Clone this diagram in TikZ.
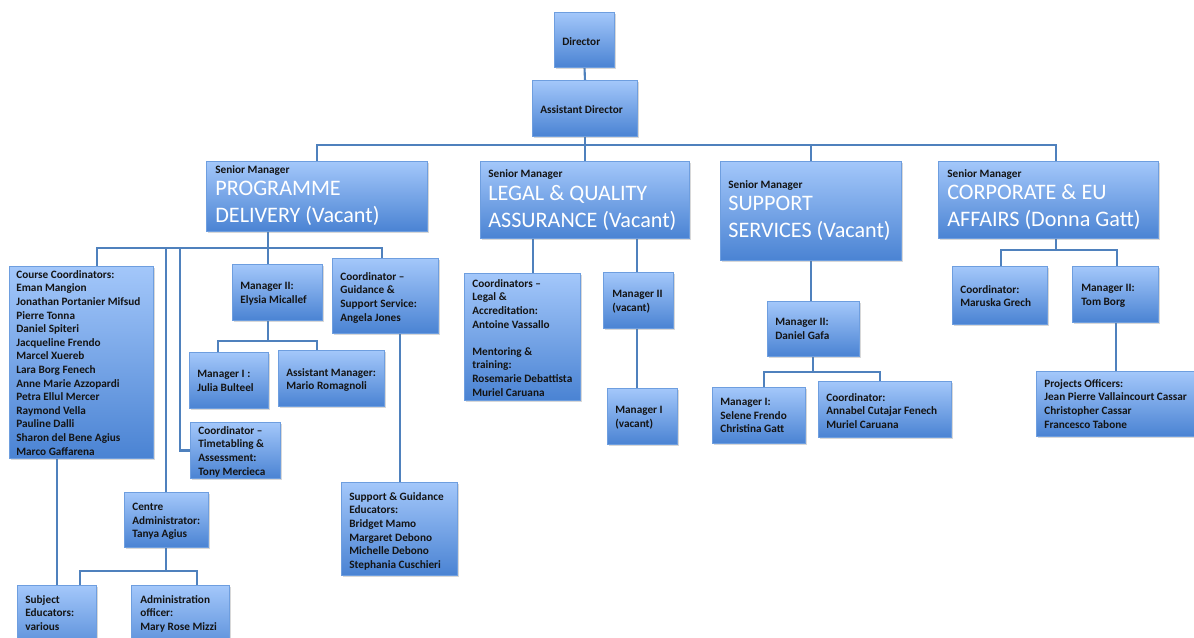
\documentclass[tikz,border=0pt]{standalone}
\usepackage{fontspec}
\setmainfont{Carlito}
\usetikzlibrary{fit,shadows}
\definecolor{linec}{HTML}{4F81BD}
\definecolor{boxtop}{HTML}{A3C7FA}
\definecolor{boxbot}{HTML}{4A83D3}
\definecolor{boxedge}{HTML}{6E9EDF}
\definecolor{txt}{HTML}{141414}
\newcommand\smallfnt{\fontsize{6.4pt}{7.74pt}\selectfont\bfseries}
\newcommand\bigfnt{\fontsize{12.6pt}{15.4pt}\selectfont}
\tikzset{
  box/.style={draw=boxedge, line width=0.4pt, top color=boxtop, bottom color=boxbot,
    inner sep=0pt, drop shadow={shadow xshift=0.7pt, shadow yshift=-0.9pt, opacity=0.3}},
  conn/.style={draw=linec, line width=1.2pt},
  sm/.style={anchor=north west, inner sep=0pt, align=left, font=\smallfnt, text=txt},
  bg/.style={anchor=north west, inner sep=0pt, align=left, font=\bigfnt, text=white},
}
\begin{document}
\begin{tikzpicture}[x=0.02cm,y=-0.02cm]
\clip (0,0) rectangle (1194,637);
\fill[white] (0,0) rectangle (1194,637);
% ---- coordinates of boxes (as named fit nodes drawn later, but lines use them)
\path
  node[fit={(555,13) (614,67)}, inner sep=0pt] (dir) {}
  node[fit={(533,81) (637,136)}, inner sep=0pt] (ad) {}
  node[fit={(207,162) (427,231)}, inner sep=0pt] (pd) {}
  node[fit={(481,162) (689,238)}, inner sep=0pt] (lqa) {}
  node[fit={(721,162) (901,260)}, inner sep=0pt] (ss) {}
  node[fit={(939,162) (1158,238)}, inner sep=0pt] (corp) {}
  node[fit={(10,267) (153,458)}, inner sep=0pt] (cc) {}
  node[fit={(233,265) (322,320)}, inner sep=0pt] (ely) {}
  node[fit={(333,259) (438,333)}, inner sep=0pt] (guid) {}
  node[fit={(190,353) (268,408)}, inner sep=0pt] (jul) {}
  node[fit={(279,351) (384,406)}, inner sep=0pt] (asst) {}
  node[fit={(191,423) (280,478)}, inner sep=0pt] (tt) {}
  node[fit={(125,493) (208,547)}, inner sep=0pt] (ca) {}
  node[fit={(18,586) (96,660)}, inner sep=0pt] (subj) {}
  node[fit={(132,586) (229,660)}, inner sep=0pt] (adm) {}
  node[fit={(342,483) (457,575)}, inner sep=0pt] (sg) {}
  node[fit={(465,274) (580,400)}, inner sep=0pt] (legal) {}
  node[fit={(604,273) (673,328)}, inner sep=0pt] (mtwo) {}
  node[fit={(608,389) (677,444)}, inner sep=0pt] (mone) {}
  node[fit={(768,302) (859,356)}, inner sep=0pt] (gafa) {}
  node[fit={(713,388) (805,443)}, inner sep=0pt] (sel) {}
  node[fit={(819,382) (951,437)}, inner sep=0pt] (ann) {}
  node[fit={(953,267) (1047,324)}, inner sep=0pt] (mar) {}
  node[fit={(1073,267) (1158,322)}, inner sep=0pt] (tom) {}
  node[fit={(1037,372) (1215,436)}, inner sep=0pt] (proj) {};
% ---- connectors
\coordinate (bus) at (585,145);
\coordinate (pdbus) at (268,248);
\coordinate (elybus) at (268,341);
\coordinate (cabus) at (166,571);
\coordinate (ssbus) at (813,372);
\coordinate (corpbus) at (1056,250);
\draw[conn] (dir.south) -- (ad.north);
\draw[conn] (ad.south) -- (lqa.north);
\draw[conn] (pd.north) |- (bus) -| (ss.north);
\draw[conn] (bus) -| (1056,0 |- corp.north);
\draw[conn] (268,0 |- pd.south) -- (pdbus);
\draw[conn] (97,0 |- cc.north) |- (pdbus) -| (382,0 |- guid.north);
\draw[conn] (pdbus) -- (268,0 |- ely.north);
\draw[conn] (166,248) -- (166,0 |- ca.north);
\draw[conn] (180,248) |- (tt.west);
\draw[conn] (268,0 |- ely.south) -- (elybus);
\draw[conn] (218,0 |- jul.north) |- (elybus) -| (317,0 |- asst.north);
\draw[conn] (400,0 |- guid.south) -- (400,0 |- sg.north);
\draw[conn] (57,0 |- cc.south) -- (57,0 |- subj.north);
\draw[conn] (166,0 |- ca.south) -- (cabus);
\draw[conn] (80,0 |- subj.north) |- (cabus) -| (197,0 |- adm.north);
\draw[conn] (533,0 |- lqa.south) -- (533,0 |- legal.north);
\draw[conn] (637,0 |- lqa.south) -- (637,0 |- mtwo.north);
\draw[conn] (637,0 |- mtwo.south) -- (637,0 |- mone.north);
\draw[conn] (811,0 |- ss.south) -- (811,0 |- gafa.north);
\draw[conn] (813,0 |- gafa.south) -- (ssbus);
\draw[conn] (764,0 |- sel.north) |- (ssbus) -| (880,0 |- ann.north);
\draw[conn] (1056,0 |- corp.south) -- (corpbus);
\draw[conn] (1001,0 |- mar.north) |- (corpbus) -| (1117,0 |- tom.north);
\draw[conn] (1116,0 |- tom.south) -- (1116,0 |- proj.north);
% ---- boxes
\foreach \n in {dir,ad,pd,lqa,ss,corp,cc,ely,guid,jul,asst,tt,ca,subj,adm,sg,legal,mtwo,mone,gafa,sel,ann,mar,tom,proj}
  \path[box] (\n.north west) rectangle (\n.south east);
% ---- texts
\node[sm] (t-dir) at (562,37) {Director};
\node[sm] (t-ad) at (540,105) {Assistant Director};
\node[sm] (t-pd1) at (215,165) {Senior Manager};
\node[bg] (t-pd2) at (215,181) {PROGRAMME\\DELIVERY (Vacant)};
\node[sm] (t-lqa1) at (488,169) {Senior Manager};
\node[bg] (t-lqa2) at (488,185) {LEGAL \& QUALITY\\ASSURANCE (Vacant)};
\node[sm] (t-ss1) at (728,180) {Senior Manager};
\node[bg] (t-ss2) at (728,196) {SUPPORT\\SERVICES (Vacant)};
\node[sm] (t-corp1) at (947,169) {Senior Manager};
\node[bg] (t-corp2) at (947,184) {CORPORATE \& EU\\AFFAIRS (Donna Gatt)};
\node[sm] (t-cc) at (16,270) {Course Coordinators:\\Eman Mangion\\Jonathan Portanier Mifsud\\Pierre Tonna\\Daniel Spiteri\\Jacqueline Frendo\\Marcel Xuereb\\Lara Borg Fenech\\Anne Marie Azzopardi\\Petra Ellul Mercer\\Raymond Vella\\Pauline Dalli\\Sharon del Bene Agius\\Marco Gaffarena};
\node[sm] (t-ely) at (240,282) {Manager II:\\Elysia Micallef};
\node[sm] (t-guid) at (340,272) {Coordinator –\\Guidance \&\\Support Service:\\Angela Jones};
\node[sm] (t-jul) at (197,370) {Manager I :\\Julia Bulteel};
\node[sm] (t-asst) at (286,368) {Assistant Manager:\\Mario Romagnoli};
\node[sm] (t-tt) at (198,426) {Coordinator –\\Timetabling \&\\Assessment:\\Tony Mercieca};
\node[sm] (t-ca) at (132,503) {Centre\\Administrator:\\Tanya Agius};
\node[sm] (t-subj) at (25,595) {Subject\\Educators:\\various};
\node[sm] (t-adm) at (140,595) {Administration\\officer:\\Mary Rose Mizzi};
\node[sm] (t-sg) at (349,492) {Support \& Guidance\\Educators:\\Bridget Mamo\\Margaret Debono\\Michelle Debono\\Stephania Cuschieri};
\node[sm] (t-legal) at (472,279) {Coordinators –\\Legal \&\\Accreditation:\\Antoine Vassallo\\[7.74pt]Mentoring \&\\training:\\Rosemarie Debattista\\Muriel Caruana};
\node[sm] (t-mtwo) at (612,290) {Manager II\\(vacant)};
\node[sm] (t-mone) at (615,406) {Manager I\\(vacant)};
\node[sm] (t-gafa) at (775,318) {Manager II:\\Daniel Gafa};
\node[sm] (t-sel) at (720,398) {Manager I:\\Selene Frendo\\Christina Gatt};
\node[sm] (t-ann) at (826,393) {Coordinator:\\Annabel Cutajar Fenech\\Muriel Caruana};
\node[sm] (t-mar) at (960,285) {Coordinator:\\Maruska Grech};
\node[sm] (t-tom) at (1081,284) {Manager II:\\Tom Borg};
\node[sm] (t-proj) at (1044,379) {Projects Officers:\\Jean Pierre Vallaincourt Cassar\\Christopher Cassar\\Francesco Tabone};
\end{tikzpicture}
\end{document}
